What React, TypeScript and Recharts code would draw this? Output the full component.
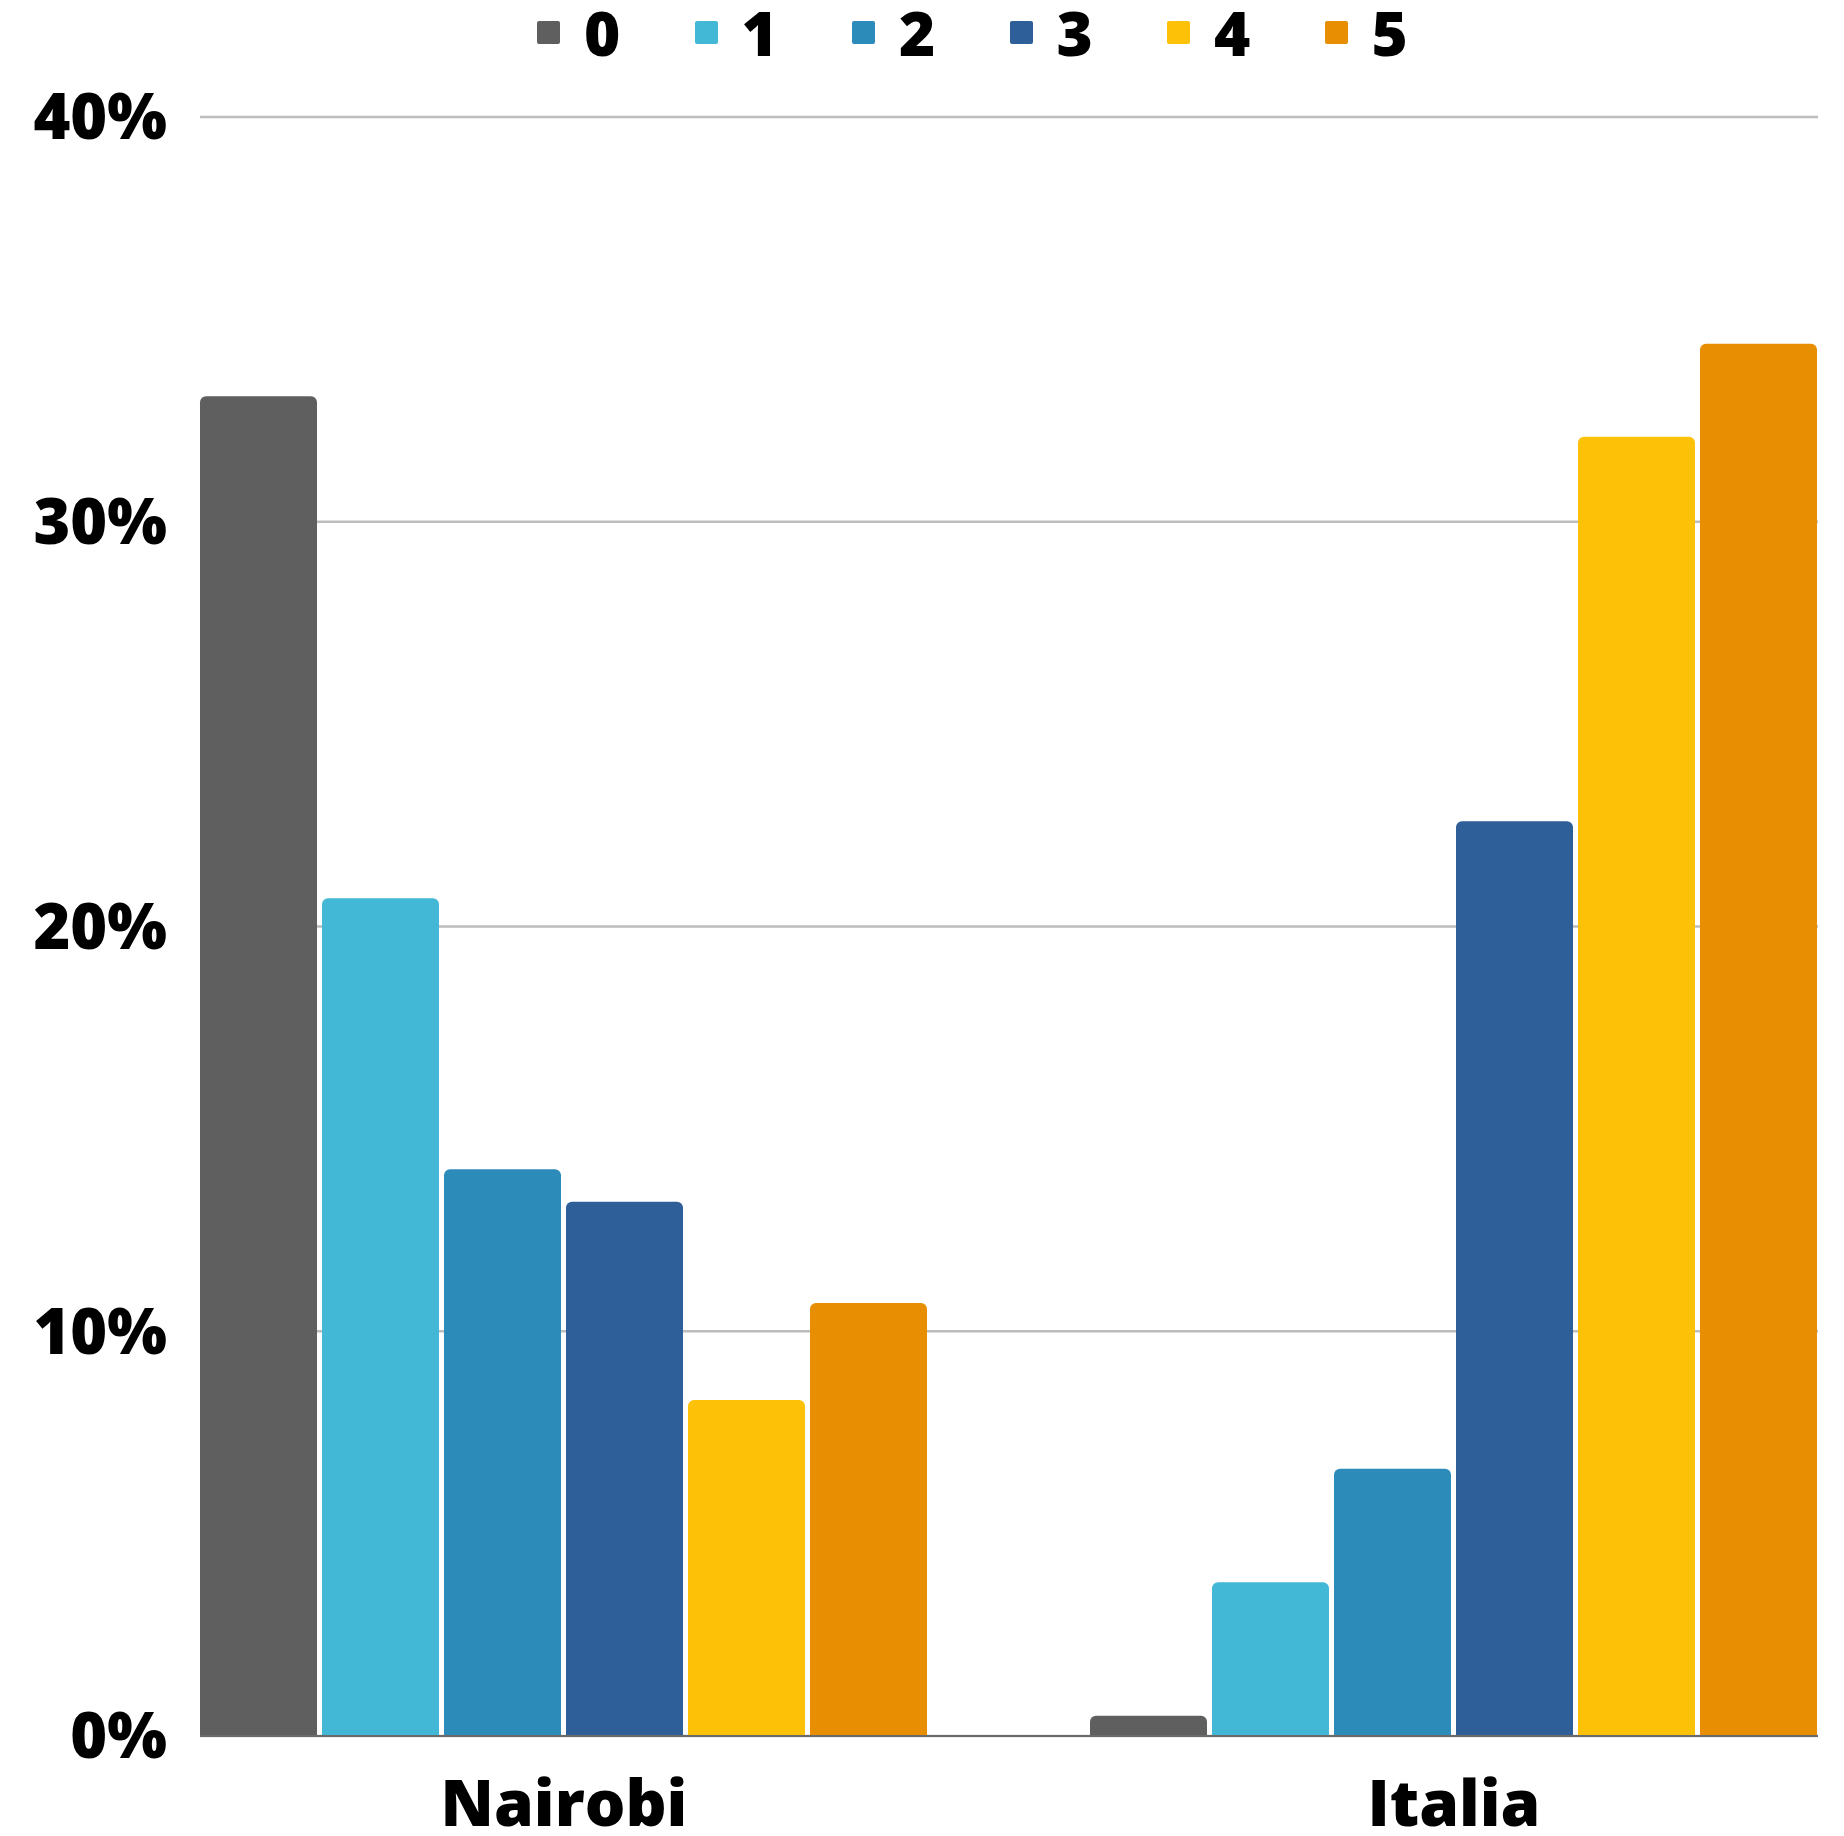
import React from 'react';
import { BarChart, Bar, XAxis, YAxis, CartesianGrid } from 'recharts';

const categories = ['Nairobi', 'Italia'];
const seriesNames = ['0', '1', '2', '3', '4', '5'];
const nairobiValues = [33.1, 20.7, 14.0, 13.2, 8.3, 10.7];
const italiaValues = [0.5, 3.8, 6.6, 22.6, 32.1, 34.4];
const seriesColors = ['#5f5f5f', '#42b7d6', '#2d8bba', '#2e5f98', '#fdc108', '#e88e03'];
const yTicks = [0, 10, 20, 30, 40];

const valuesByCategory = [nairobiValues, italiaValues];

const data = categories.map((name, i) => {
  const row: Record<string, string | number> = { name };
  seriesNames.forEach((_, j) => {
    row['s' + j] = valuesByCategory[i][j];
  });
  return row;
});

const FONT = '"Open Sans", sans-serif';

function Legend() {
  return (
    <div
      style={{
        position: 'absolute',
        top: 1,
        left: 537,
        height: 62,
        display: 'flex',
        alignItems: 'center',
        fontFamily: FONT,
        fontWeight: 800,
        fontSize: 62,
        lineHeight: 1,
        color: '#000',
      }}
    >
      {seriesNames.map((n, i) => (
        <div key={n} style={{ width: 157.5, height: 62, display: 'flex', alignItems: 'center' }}>
          <div
            style={{
              width: 23,
              height: 23,
              borderRadius: 2,
              background: seriesColors[i],
              marginRight: 24,
            }}
          />
          <span>{n}</span>
        </div>
      ))}
    </div>
  );
}

export default function App() {
  return (
    <div style={{ position: 'absolute', left: 0, top: 0, width: 1844, height: 1836, background: '#fff' }}>
      <Legend />
      <BarChart
        width={1844}
        height={1836}
        data={data}
        margin={{ top: 117, right: 26, bottom: 0, left: 0 }}
        barCategoryGap={81}
        barGap={5}
      >
        <CartesianGrid vertical={false} stroke="#bdbdbd" strokeWidth={2.5} />
        <XAxis
          dataKey="name"
          height={100}
          padding={{ left: -81, right: -81 }}
          tickLine={false}
          tickSize={0}
          tickMargin={45}
          axisLine={{ stroke: '#6b6b6b', strokeWidth: 2 }}
          tick={{ fill: '#000', fontFamily: FONT, fontWeight: 800, fontSize: 64 }}
        />
        <YAxis
          width={200}
          domain={[0, 40]}
          ticks={yTicks}
          tickFormatter={(v: number) => `${v}%`}
          axisLine={false}
          tickLine={false}
          tickSize={0}
          tickMargin={33}
          tick={{ fill: '#000', fontFamily: FONT, fontWeight: 800, fontSize: 63 }}
        />
        {seriesNames.map((n, i) => (
          <Bar
            key={n}
            dataKey={'s' + i}
            name={n}
            fill={seriesColors[i]}
            radius={[6, 6, 0, 0]}
            isAnimationActive={false}
          />
        ))}
      </BarChart>
    </div>
  );
}
